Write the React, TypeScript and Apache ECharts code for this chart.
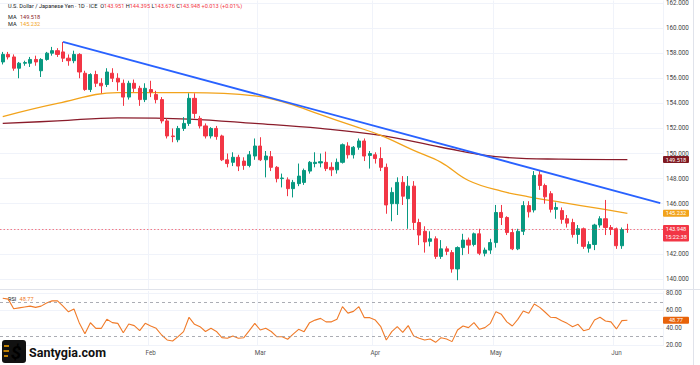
import React, { useEffect, useRef } from "react";
import * as echarts from "echarts";

// ---------- data ----------
const opens = [
  157.3, 157.9, 157.7, 156.8, 157.2, 157.2, 157.5, 156.6, 157.5, 158.0,
  158.2, 158.1, 157.6, 157.4, 157.9, 156.4, 155.1, 156.3, 155.6, 155.5,
  156.4, 156.0, 155.6, 154.5, 155.6, 155.2, 154.3, 155.1, 154.7, 154.3,
  152.6, 151.4, 151.1, 152.0, 152.4, 154.4, 152.8, 152.2, 151.4, 152.0,
  151.4, 149.5, 149.3, 149.7, 149.4, 149.05, 149.8, 150.6, 149.5, 149.75,
  148.9, 148.0, 147.9, 147.2, 147.6, 147.7, 148.6, 149.2, 149.25, 149.3,
  148.9, 148.7, 149.3, 150.6, 149.9, 150.5, 151.0, 149.85, 149.9, 149.6,
  148.9, 146.0, 146.0, 147.7, 146.4, 147.4, 144.5, 143.8, 143.0, 143.2,
  141.8, 142.4, 142.1, 140.8, 142.5, 143.1, 142.75, 143.6, 142.05, 142.3,
  142.9, 145.3, 144.9, 143.7, 142.4, 143.8, 145.85, 145.5, 148.3, 147.45,
  146.8, 145.55, 145.45, 144.8, 144.5, 143.55, 144.0, 142.45, 142.75, 144.3,
  144.8, 144.1, 144.0, 142.65, 143.951,
];
const closes = [
  157.9, 157.7, 156.8, 157.2, 157.25, 157.5, 157.3, 157.5, 158.0, 158.2,
  157.9, 157.6, 157.4, 157.9, 156.5, 155.1, 156.3, 155.6, 155.4, 156.5,
  156.0, 155.7, 154.5, 155.6, 155.2, 154.3, 155.2, 154.9, 154.3, 152.6,
  151.4, 151.35, 152.0, 152.4, 154.4, 153.2, 152.2, 151.4, 152.0, 151.35,
  149.5, 149.2, 149.7, 149.0, 149.05, 149.9, 150.6, 149.5, 149.8, 148.9,
  148.0, 148.05, 147.2, 147.7, 148.2, 148.65, 149.3, 149.3, 149.35, 148.8,
  148.7, 149.3, 150.7, 149.9, 150.5, 151.0, 149.8, 150.0, 149.6, 148.9,
  145.9, 146.9, 147.7, 146.6, 147.4, 144.5, 143.5, 142.95, 143.2, 141.8,
  142.4, 142.2, 140.8, 142.5, 143.1, 142.7, 143.6, 142.05, 142.3, 142.9,
  145.3, 144.9, 143.7, 142.4, 143.8, 145.85, 145.35, 148.25, 147.45, 146.55,
  145.55, 145.7, 144.75, 144.45, 143.55, 144.0, 142.6, 142.75, 144.3, 144.8,
  144.1, 143.95, 142.65, 143.935, 143.948,
];
const lows = [
  157.1, 157.5, 156.6, 156.0, 157.0, 156.9, 157.0, 156.1, 157.4, 157.8,
  157.7, 157.3, 157.0, 157.2, 156.0, 155.0, 154.9, 155.3, 154.8, 155.3,
  155.7, 155.0, 153.8, 154.3, 154.9, 153.8, 154.1, 154.5, 154.0, 152.4,
  151.2, 150.9, 150.9, 151.8, 152.2, 152.8, 152.0, 151.2, 151.2, 151.1,
  149.4, 148.9, 149.0, 148.6, 148.7, 148.9, 149.5, 149.4, 148.1, 148.6,
  147.7, 147.3, 146.6, 146.5, 147.4, 147.5, 148.4, 148.9, 148.9, 148.6,
  148.2, 148.4, 149.2, 149.6, 149.6, 150.3, 149.4, 148.8, 149.2, 148.6,
  145.2, 144.6, 145.1, 145.9, 144.0, 143.9, 142.7, 142.1, 142.6, 141.6,
  141.6, 141.9, 140.5, 139.9, 141.9, 142.0, 142.6, 141.9, 141.8, 142.0,
  142.5, 144.3, 143.5, 142.3, 142.3, 143.5, 144.9, 145.3, 147.1, 146.0,
  145.3, 144.8, 144.4, 144.1, 143.3, 142.8, 142.4, 142.1, 142.3, 144.1,
  143.5, 143.5, 142.4, 142.4, 143.676,
];
const highs = [
  158.1, 158.1, 157.9, 157.3, 157.4, 157.7, 157.8, 157.6, 158.1, 158.5,
  158.4, 158.9, 157.9, 158.2, 158.0, 156.6, 156.4, 156.6, 156.0, 156.8,
  156.8, 156.4, 155.9, 155.8, 155.9, 155.4, 155.6, 155.8, 155.0, 154.5,
  152.8, 152.0, 152.2, 152.9, 154.8, 154.8, 153.0, 152.4, 152.1, 152.2,
  151.5, 150.0, 150.1, 149.9, 149.7, 150.2, 151.2, 151.3, 150.2, 150.2,
  149.0, 148.4, 148.1, 147.9, 149.2, 148.8, 149.4, 150.1, 150.0, 150.15,
  149.3, 149.6, 150.8, 150.9, 150.6, 151.2, 151.2, 150.2, 150.1, 150.5,
  149.2, 147.3, 148.1, 148.2, 148.2, 147.8, 144.8, 144.2, 143.8, 143.4,
  143.1, 142.6, 142.3, 142.6, 143.6, 143.3, 143.7, 144.0, 142.5, 143.2,
  145.9, 145.9, 145.0, 144.0, 144.0, 146.2, 146.2, 148.6, 148.6, 147.6,
  147.0, 146.1, 145.7, 145.1, 144.8, 144.3, 144.1, 143.0, 144.4, 145.0,
  146.3, 144.3, 144.1, 144.1, 144.395,
];
const rsiValues = [
  74, 73, 62, 63, 64, 65, 63.6, 65, 68.5, 71,
  71, 65, 58.5, 61.7, 45.3, 33.5, 46, 39.6, 39.6, 49.9,
  46.1, 45.3, 34.6, 44.6, 42.7, 37, 45.3, 42.3, 39.6, 32,
  26.3, 25.1, 30.1, 35.8, 52.2, 44.2, 41.5, 36, 39.6, 36,
  29, 28.2, 30.9, 28.2, 28.9, 37, 45.3, 37.7, 39.6, 36,
  30.1, 30, 27.1, 33, 38.5, 35.8, 46.1, 49, 51, 47,
  47, 50, 64.4, 57, 59, 64.4, 51.8, 51.8, 49.1, 41.5,
  26.3, 35.8, 41.5, 35, 42.7, 30.9, 28.2, 26.3, 27.5, 23.6,
  28.9, 27.5, 24.4, 37.7, 42.3, 40.4, 46.1, 38.5, 40.4, 45.3,
  58.7, 55.6, 47, 42.3, 49.9, 59.4, 56.8, 67.4, 63.6, 58,
  52.2, 51.8, 48.4, 45.3, 41.5, 44.2, 36.9, 38.5, 49.1, 52.2,
  48, 47, 38.9, 48.4, 48.77,
];
// [candle index, value] readings of the moving averages
const ma200Points = [
  [0, 152.4], [10, 152.6], [21, 152.85], [34, 152.75], [46, 152.4], [58, 152.0],
  [69, 151.45], [80, 150.5], [90, 149.75], [102, 149.55], [114, 149.518],
];
const ma50Points = [
  [0, 152.95], [10, 154.0], [21, 154.85], [34, 154.85], [46, 154.6], [52, 154.0],
  [58, 153.1], [64, 152.2], [69, 151.45], [75, 150.25], [80, 149.3], [85, 147.85],
  [91, 147.0], [96, 146.55], [102, 146.1], [109, 145.6], [114, 145.232],
];
const trendPoints = [[11, 158.9], [120, 146.05]];
const priceTicks = [140, 142, 144, 146, 148, 150, 152, 154, 156, 158, 160, 162];
const rsiTicks = [20, 40, 60, 80];
const rsiLevels = [70, 30];
const monthAbbr = ["Jan", "Feb", "Mar", "Apr", "May", "Jun", "Jul", "Aug", "Sep", "Oct", "Nov", "Dec"];
const START = { y: 2024, m: 11, d: 26 };
const PAD_SLOTS = 6;

// weekday calendar (forex trades on all weekdays)
const dates: string[] = [];
{
  const d = new Date(Date.UTC(START.y, START.m, START.d));
  while (dates.length < opens.length + PAD_SLOTS) {
    const wd = d.getUTCDay();
    if (wd !== 0 && wd !== 6) dates.push(d.toISOString().slice(0, 10));
    d.setUTCDate(d.getUTCDate() + 1);
  }
}
const monthStarts = new Set<number>();
dates.forEach((s, i) => {
  if (i > 0 && s.slice(5, 7) !== dates[i - 1].slice(5, 7)) monthStarts.add(i);
});
const labelIdx = new Set<number>([...monthStarts].filter((i) => dates[i].slice(5, 7) !== "01"));

const FONT = 'Roboto, "Noto Sans", sans-serif';
const UP = "#089981";
const DOWN = "#f23645";
const MA200C = "#8a1c2b";
const MA50C = "#f2a31b";
const RSIC = "#f07b29";
const GRIDC = "#f0f3fa";

const last = opens.length - 1;
// the last-price tag hides the scale label it sits on
const priceLabelTicks = priceTicks.filter((v) => Math.abs(v - closes[last]) > 0.9);

function buildOption() {
  return {
    animation: false,
    backgroundColor: "#ffffff",
    textStyle: { fontFamily: FONT },
    grid: [
      { left: 0, top: 0, width: 663, height: 289 },
      { left: 0, top: 291, width: 663, height: 55 },
    ],
    xAxis: [
      {
        type: "category", gridIndex: 0, data: dates, boundaryGap: true,
        axisLine: { show: false }, axisTick: { show: false }, axisLabel: { show: false },
        splitLine: { show: true, interval: (i: number) => labelIdx.has(i), lineStyle: { color: GRIDC, width: 1 } },
      },
      {
        type: "category", gridIndex: 1, data: dates, boundaryGap: true,
        axisLine: { show: false }, axisTick: { show: false },
        axisLabel: {
          interval: (i: number) => labelIdx.has(i),
          formatter: (v: string) => monthAbbr[parseInt(v.slice(5, 7), 10) - 1],
          color: "#555", fontSize: 6.3, margin: 4, fontFamily: FONT,
        },
        splitLine: { show: true, interval: (i: number) => labelIdx.has(i), lineStyle: { color: GRIDC, width: 1 } },
      },
    ],
    yAxis: [
      {
        type: "value", gridIndex: 0, position: "right", min: 139.2, max: 162.2, scale: true,
        axisLine: { show: false },
        axisTick: { show: false, customValues: priceTicks },
        axisLabel: { customValues: priceLabelTicks, formatter: (v: number) => v.toFixed(3), color: "#444", fontSize: 6.3, margin: 3, fontFamily: FONT },
        splitLine: { show: true, lineStyle: { color: GRIDC, width: 1 } },
      },
      {
        type: "value", gridIndex: 1, position: "right", min: 19.4, max: 82.3, scale: true,
        axisLine: { show: false },
        axisTick: { show: false, customValues: rsiTicks },
        axisLabel: { customValues: rsiTicks, formatter: (v: number) => v.toFixed(2), color: "#444", fontSize: 6.3, margin: 3, fontFamily: FONT },
        splitLine: { show: true, lineStyle: { color: GRIDC, width: 1 } },
      },
    ],
    series: [
      {
        name: "USDJPY", type: "candlestick", xAxisIndex: 0, yAxisIndex: 0,
        data: opens.map((o, i) => [o, closes[i], lows[i], highs[i]]),
        barWidth: 3.6,
        itemStyle: { color: UP, color0: DOWN, borderColor: UP, borderColor0: DOWN, borderWidth: 1 },
        markLine: {
          silent: true, symbol: ["none", "none"], label: { show: false },
          lineStyle: { color: DOWN, type: [1.5, 2], width: 0.8, opacity: 0.8 },
          data: [{ yAxis: closes[last] }],
        },
        z: 3,
      },
      {
        name: "MA200", type: "line", xAxisIndex: 0, yAxisIndex: 0, data: ma200Points,
        smooth: 0.4, symbol: "none", lineStyle: { color: MA200C, width: 1.3 }, z: 2,
      },
      {
        name: "MA50", type: "line", xAxisIndex: 0, yAxisIndex: 0, data: ma50Points,
        smooth: 0.4, symbol: "none", lineStyle: { color: MA50C, width: 1.3 }, z: 2,
      },
      {
        name: "Trend", type: "line", xAxisIndex: 0, yAxisIndex: 0, data: trendPoints,
        symbol: "none", lineStyle: { color: "#2962ff", width: 1.8 }, z: 4,
      },
      {
        name: "RSI", type: "line", xAxisIndex: 1, yAxisIndex: 1, data: rsiValues,
        symbol: "none", lineStyle: { color: RSIC, width: 1.1 },
        markLine: {
          silent: true, symbol: ["none", "none"], label: { show: false },
          lineStyle: { color: "#9598a1", type: [3, 3], width: 0.8 },
          data: rsiLevels.map((v) => ({ yAxis: v })),
        },
      },
    ],
  };
}

function buildGraphics(py: (v: number) => number, ry: (v: number) => number) {
  const chg = closes[last] - closes[last - 1];
  const pct = (chg / closes[last - 1]) * 100;
  const sign = (x: number) => (x >= 0 ? "+" : "");
  const ma200Last = ma200Points[ma200Points.length - 1][1];
  const ma50Last = ma50Points[ma50Points.length - 1][1];
  const fs = 5.6;
  const els: any[] = [];
  els.push({
    type: "text", x: 8, y: 6,
    style: {
      text:
        `{t|U.S. Dollar / Japanese Yen · 1D · ICE}  {k|O}{v|${opens[last].toFixed(3)}} {k|H}{v|${highs[last].toFixed(3)}} ` +
        `{k|L}{v|${lows[last].toFixed(3)}} {k|C}{v|${closes[last].toFixed(3)}} {v|${sign(chg)}${chg.toFixed(3)} (${sign(pct)}${pct.toFixed(2)}%)}`,
      verticalAlign: "middle", font: `${fs}px ${FONT}`,
      rich: {
        t: { fill: "#131722", fontSize: fs, fontFamily: FONT },
        k: { fill: "#131722", fontSize: fs, fontFamily: FONT },
        v: { fill: DOWN, fontSize: fs, fontFamily: FONT },
      },
    },
  });
  els.push({
    type: "text", x: 8, y: 17,
    style: { text: `{k|MA} {v|${ma200Last.toFixed(3)}}`, verticalAlign: "middle", rich: { k: { fill: "#131722", fontSize: fs, fontFamily: FONT }, v: { fill: MA200C, fontSize: fs, fontFamily: FONT } } },
  });
  els.push({
    type: "text", x: 8, y: 24,
    style: { text: `{k|MA} {v|${ma50Last.toFixed(3)}}`, verticalAlign: "middle", rich: { k: { fill: "#131722", fontSize: fs, fontFamily: FONT }, v: { fill: MA50C, fontSize: fs, fontFamily: FONT } } },
  });
  els.push({
    type: "text", x: 8, y: 299,
    style: { text: `{k|RSI} {v|${rsiValues[last].toFixed(2)}}`, verticalAlign: "middle", rich: { k: { fill: "#131722", fontSize: fs, fontFamily: FONT }, v: { fill: RSIC, fontSize: fs, fontFamily: FONT } } },
  });

  const tag = (y: number, text: string, bg: string, h = 7) => ({
    type: "group",
    z: 100,
    children: [
      { type: "rect", shape: { x: 663, y: y - h / 2, width: 26, height: h, r: 1 }, style: { fill: bg } },
      { type: "text", x: 676, y: y, style: { text, fill: "#fff", font: `${fs}px ${FONT}`, align: "center", verticalAlign: "middle" } },
    ],
  });
  els.push(tag(py(ma200Last), ma200Last.toFixed(3), "#801922"));
  els.push(tag(py(ma50Last), ma50Last.toFixed(3), MA50C));
  const yc = py(closes[last]);
  els.push({
    type: "group", z: 100,
    children: [
      { type: "rect", shape: { x: 663, y: yc - 4.5, width: 26, height: 16.5, r: 1 }, style: { fill: DOWN } },
      { type: "text", x: 676, y: yc - 0.5, style: { text: closes[last].toFixed(3), fill: "#fff", font: `${fs}px ${FONT}`, align: "center", verticalAlign: "middle" } },
      { type: "text", x: 676, y: yc + 7.5, style: { text: "15:22:38", fill: "#fff", font: `${fs}px ${FONT}`, align: "center", verticalAlign: "middle" } },
    ],
  });
  els.push(tag(ry(rsiValues[last]), rsiValues[last].toFixed(2), "#e8630a"));

  // pane separator and right border
  els.push({ type: "line", shape: { x1: 0, y1: 289.5, x2: 700, y2: 289.5 }, style: { stroke: "#e0e3eb", lineWidth: 1 } });
  els.push({ type: "line", shape: { x1: 693.5, y1: 0, x2: 693.5, y2: 365 }, style: { stroke: "#e0e3eb", lineWidth: 1 } });

  // watermark logo
  els.push({
    type: "group", z: 200,
    children: [
      { type: "rect", shape: { x: 2, y: 340, width: 24, height: 23, r: 3 }, style: { fill: "#111111" } },
      { type: "line", shape: { x1: 4, y1: 346, x2: 9, y2: 346 }, style: { stroke: "#f7a400", lineWidth: 1.5 } },
      { type: "line", shape: { x1: 3.5, y1: 351, x2: 9, y2: 351 }, style: { stroke: "#f7a400", lineWidth: 1.5 } },
      { type: "line", shape: { x1: 4, y1: 356, x2: 8, y2: 356 }, style: { stroke: "#f7a400", lineWidth: 1.5 } },
      {
        type: "text", x: 16, y: 352,
        style: {
          text: "$", font: `italic bold 19px ${FONT}`, align: "center", verticalAlign: "middle",
          fill: new echarts.graphic.LinearGradient(0, 0, 0, 1, [
            { offset: 0, color: "#ffd000" },
            { offset: 1, color: "#f08a00" },
          ]),
        },
      },
      { type: "text", x: 29, y: 352.5, style: { text: "Santygia.com", font: `bold 12.5px ${FONT}`, fill: "#111111", verticalAlign: "middle" } },
    ],
  });
  return els;
}

export default function App() {
  const ref = useRef<HTMLDivElement>(null);
  useEffect(() => {
    const el = ref.current;
    if (!el) return;
    const chart = echarts.init(el, null, { renderer: "svg" });
    chart.setOption(buildOption() as any);
    const py = (v: number) => chart.convertToPixel({ yAxisIndex: 0 } as any, v) as unknown as number;
    const ry = (v: number) => chart.convertToPixel({ yAxisIndex: 1 } as any, v) as unknown as number;
    chart.setOption({ graphic: buildGraphics(py, ry) } as any);
    return () => chart.dispose();
  }, []);
  return (
    <div
      ref={ref}
      style={{ position: "absolute", left: 0, top: 0, width: 700, height: 365, background: "#ffffff" }}
    />
  );
}
